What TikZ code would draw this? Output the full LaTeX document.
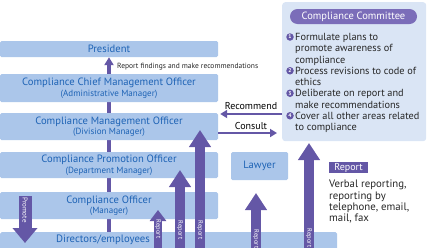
\documentclass[tikz,border=0pt]{standalone}
\usepackage{fontspec}
\setmainfont{PT Sans}
\usetikzlibrary{arrows.meta,backgrounds}
\definecolor{boxblue}{HTML}{ABC6EA}
\definecolor{textblue}{HTML}{1E63B5}
\definecolor{arrowpurple}{HTML}{6457A6}
\definecolor{cmtfill}{HTML}{DAE5F5}
\definecolor{pillpurple}{HTML}{7B6DB9}
\newcommand{\subfont}{\fontsize{9}{9}\selectfont}
\begin{document}
\begin{tikzpicture}[x=1pt,y=-1pt,
  rolebox/.style={fill=boxblue,rounded corners=1.5pt,minimum width=218pt,inner sep=0pt,
    align=center,text=textblue,font=\fontsize{10.6}{10.5}\selectfont},
  bigarrow/.style={draw=arrowpurple,line width=10pt,-{Triangle[width=21pt,length=17pt]}},
  linkarrow/.style={draw=arrowpurple,line width=2.5pt,-{Triangle[width=8pt,length=7pt]}},
  arrowtext/.style={text=white,rotate=-90,inner sep=0pt,font=\fontsize{6.5}{7}\selectfont},
  itemtext/.style={anchor=north west,align=left,inner sep=0pt,text=black!85,
    font=\fontsize{10.3}{11.25}\selectfont},
  itemnum/.style={circle,fill=arrowpurple,text=white,inner sep=0pt,minimum size=7.5pt,
    font=\fontsize{5.5}{6}\bfseries\selectfont}]
  \useasboundingbox (0,0) rectangle (427,247);
  \node[rolebox,minimum height=16pt] (pres) at (109,49) {President};
  \node[rolebox,minimum height=28pt] (chief) at (109,88)
    {Compliance Chief Management Officer\\{\subfont(Administrative Manager)}};
  \node[rolebox,minimum height=27pt] (mgmt) at (109,126.5)
    {Compliance Management Officer\\{\subfont(Division Manager)}};
  \node[rolebox,minimum height=26pt] (promo) at (109,165)
    {Compliance Promotion Officer\\{\subfont(Department Manager)}};
  \node[rolebox,minimum height=27pt] (officer) at (109,205.5)
    {Compliance Officer\\{\subfont(Manager)}};
  \node[rolebox,minimum width=337pt,minimum height=18pt,anchor=north west] (staff) at (0,232) {};
  \node[text=textblue,font=\fontsize{10.7}{12}\selectfont,inner sep=0pt] (stafftext) at (103,240) {Directors/employees};
  \node[rolebox,minimum width=57pt,minimum height=28pt] (lawyer) at (259.5,166) {Lawyer};

  \node[fill=cmtfill,rounded corners=3pt,minimum width=144pt,minimum height=139pt,
    anchor=north west] (cmt) at (282,2) {};
  \node[fill=pillpurple,rounded corners=7.5pt,minimum width=127pt,minimum height=15pt,inner sep=0pt,
    text=white,font=\fontsize{10.5}{12}\selectfont] (cmttitle) at (353.5,16.5) {Compliance Committee};
  \node[itemnum] (num1) at (290,37) {1};
  \node[itemtext] (item1) at (295,33.2) {Formulate plans to\\promote awareness of\\compliance};
  \node[itemnum] (num2) at (290,70.75) {2};
  \node[itemtext] (item2) at (295,66.95) {Process revisions to code of\\ethics};
  \node[itemnum] (num3) at (290,93.25) {3};
  \node[itemtext] (item3) at (295,89.45) {Deliberate on report and\\make recommendations};
  \node[itemnum] (num4) at (290,115.75) {4};
  \node[itemtext] (item4) at (295,111.95) {Cover all other areas related\\to compliance};

  \node[fill=arrowpurple,text=white,minimum width=39pt,minimum height=11pt,inner sep=0pt,
    font=\fontsize{10}{11}\selectfont] (reptag) at (348.5,167.5) {Report};
  \node[anchor=north west,align=left,inner sep=0pt,text=black!85,
    font=\fontsize{10.8}{11.2}\selectfont] (reptext) at (329,180) {Verbal reporting,\\reporting by\\telephone, email,\\mail, fax};

  \begin{scope}[on background layer]
    \draw[arrowpurple,line width=4.5pt] (staff.north -| chief.south) -- (chief.south);
  \end{scope}
  \draw[arrowpurple,line width=4pt,-{Triangle[width=9pt,length=8pt]}] (chief.north) -- (pres.south);
  \node[anchor=west,inner sep=0pt,text=black!85,font=\fontsize{7.5}{8}\selectfont] (findings) at (117,66.5)
    {Report findings and make recommendations};

  \coordinate (recA) at (282,114);
  \coordinate (conB) at (277,133);
  \draw[linkarrow,shorten >=2pt] (recA) -- (recA -| mgmt.east);
  \draw[linkarrow] (conB -| mgmt.east) -- (conB);
  \node[font=\fontsize{10}{10}\selectfont,inner sep=0pt] (recommend) at (251,106) {Recommend};
  \node[font=\fontsize{10}{10}\selectfont,inner sep=0pt] (consult) at (251,125.5) {Consult};

  \coordinate (tipA) at (158,210);
  \coordinate (tipB) at (180,170);
  \coordinate (tipC) at (200,130);
  \coordinate (tipL) at (256,193);
  \coordinate (tipM) at (309,143);
  \draw[bigarrow,line width=8pt,-{Triangle[width=16pt,length=11pt]}] (staff.south -| tipA) -- (tipA);
  \draw[bigarrow] (staff.south -| tipB) -- (tipB);
  \draw[bigarrow] (staff.south -| tipC) -- (tipC);
  \draw[bigarrow] (staff.south -| tipL) -- (tipL);
  \draw[bigarrow] (staff.south -| tipM) -- (tipM);
  \node[arrowtext] (repA) at (158,229) {Report};
  \node[arrowtext] (repB) at (180,230) {Report};
  \node[arrowtext] (repC) at (200,230) {Report};
  \node[arrowtext] (repL) at (256,239) {Report};
  \node[arrowtext] (repM) at (309,238) {Report};

  \coordinate (promA) at (25,196);
  \coordinate (promB) at (25,243);
  \draw[bigarrow,line width=13pt,-{Triangle[width=24pt,length=15pt]}] (promA) -- (promB);
  \node[arrowtext,font=\fontsize{7}{8}\selectfont] (promote) at (25,210) {Promote};
\end{tikzpicture}
\end{document}
